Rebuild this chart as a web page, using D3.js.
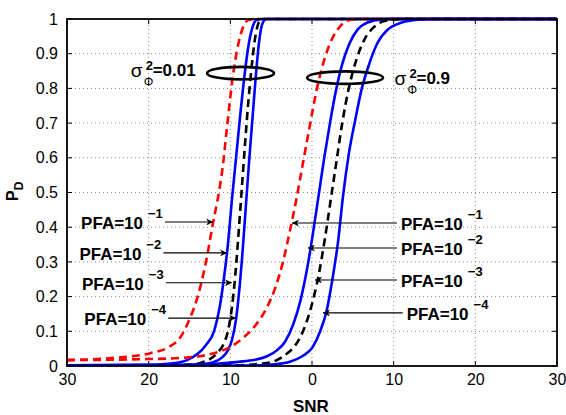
<!DOCTYPE html>
<html>
<head>
<meta charset="utf-8">
<script src="https://cdn.jsdelivr.net/npm/d3@7"></script>
<style>
  body { margin: 0; background: #fff; }
  svg { display: block; font-family: "Liberation Sans", Arial, Helvetica, sans-serif; }
</style>
</head>
<body>
<div id="chart"></div>
<script>
// x ticks (shown without sign, as in the original figure)
const snrTicks = [-30, -20, -10, 0, 10, 20, 30];
const pdTicks = [0, 0.1, 0.2, 0.3, 0.4, 0.5, 0.6, 0.7, 0.8, 0.9, 1];

// sigma^2 = 0.01 group, [SNR, PD]
const lowPfa1 = [[-30, 0.017], [-25, 0.022], [-19.8, 0.037], [-17.5, 0.055], [-16.2, 0.08], [-15.2, 0.124], [-14, 0.2],
  [-12.9, 0.31], [-12.1, 0.415], [-11.4, 0.5], [-10.9, 0.58], [-10.4, 0.69], [-9.6, 0.85], [-8.8, 0.95], [-7.8, 0.997], [-7, 1], [30, 1]];
const lowPfa2 = [[-30, 0.002], [-20, 0.004], [-17, 0.008], [-15.3, 0.017], [-14, 0.035], [-13, 0.06], [-12, 0.1],
  [-11.3, 0.17], [-10.8, 0.25], [-10.3, 0.35], [-9.8, 0.48], [-9.3, 0.6], [-8.8, 0.72], [-8.3, 0.83], [-7.8, 0.92],
  [-7.3, 0.975], [-6.8, 0.997], [-6, 1], [30, 1]];
const lowPfa3 = [[-30, 0], [-20, 0.001], [-15, 0.004], [-13.5, 0.01], [-12.5, 0.02], [-11.5, 0.04], [-10.9, 0.06],
  [-10.3, 0.1], [-9.8, 0.17], [-9.4, 0.26], [-9, 0.38], [-8.6, 0.51], [-8.2, 0.64], [-7.8, 0.76], [-7.4, 0.86],
  [-7, 0.94], [-6.6, 0.985], [-6.2, 0.999], [-5.5, 1], [30, 1]];
const lowPfa4 = [[-30, 0], [-15, 0.002], [-13.5, 0.005], [-12, 0.012], [-11, 0.025], [-10.3, 0.045], [-9.8, 0.075],
  [-9.3, 0.135], [-8.9, 0.22], [-8.5, 0.33], [-8.1, 0.46], [-7.7, 0.59], [-7.3, 0.71], [-6.9, 0.83], [-6.5, 0.93],
  [-6.1, 0.985], [-5.6, 1], [30, 1]];

// sigma^2 = 0.9 group, [SNR, PD]
const highPfa1 = [[-30, 0.017], [-20, 0.02], [-15, 0.025], [-12, 0.037], [-10, 0.055], [-8.5, 0.08], [-7, 0.115],
  [-5.5, 0.17], [-4.5, 0.225], [-3.5, 0.305], [-2.7, 0.39], [-2, 0.47], [-1.3, 0.56], [-0.6, 0.65], [0.1, 0.74],
  [0.8, 0.82], [1.6, 0.89], [2.5, 0.945], [3.5, 0.98], [4.6, 0.997], [6, 1], [30, 1]];
const highPfa2 = [[-30, 0], [-20, 0.002], [-12, 0.006], [-9, 0.012], [-7, 0.018], [-5.5, 0.028], [-4.3, 0.045],
  [-3.3, 0.07], [-2.3, 0.12], [-1.4, 0.19], [-0.6, 0.28], [0.1, 0.38], [0.8, 0.49], [1.5, 0.6], [2.2, 0.7],
  [2.9, 0.79], [3.7, 0.87], [4.6, 0.93], [5.6, 0.97], [6.8, 0.99], [8.5, 0.999], [10, 1], [30, 1]];
const highPfa3 = [[-30, 0], [-10, 0.002], [-6, 0.007], [-4.3, 0.017], [-3.1, 0.035], [-2.1, 0.058], [-1.1, 0.1],
  [-0.1, 0.17], [0.8, 0.26], [1.6, 0.37], [2.3, 0.48], [3, 0.59], [3.7, 0.7], [4.5, 0.8], [5.4, 0.88],
  [6.4, 0.94], [7.5, 0.975], [9, 0.995], [11, 1], [30, 1]];
const highPfa4 = [[-30, 0], [-8, 0.001], [-4.5, 0.005], [-2.7, 0.012], [-1.2, 0.028], [0.1, 0.055], [1, 0.1],
  [1.8, 0.16], [2.5, 0.25], [3.2, 0.36], [3.8, 0.49], [4.5, 0.61], [5.3, 0.71], [6.1, 0.8], [7, 0.87],
  [8, 0.93], [9.3, 0.97], [11, 0.99], [13, 0.998], [15, 1], [30, 1]];

const pfaExponents = ["\u22121", "\u22122", "\u22123", "\u22124"];
// arrow tips for the labels: [SNR, PD]
const lowArrowTips = [[-12.1, 0.415], [-10.4, 0.326], [-9.8, 0.24], [-9.3, 0.138]];
const lowArrowTails = [-18.0, -18.2, -17.9, -17.6];
const highArrowTips = [[-2.45, 0.412], [-0.5, 0.34], [0.37, 0.248], [1.35, 0.153]];
const highArrowTails = [10.4, 10.4, 10.4, 11.1];

const width = 566, height = 415;
const margin = { top: 19, right: 9, bottom: 49, left: 67 };

const svg = d3.select("#chart").append("svg")
  .attr("width", width)
  .attr("height", height);

const x = d3.scaleLinear().domain([-30, 30]).range([margin.left, width - margin.right]);
const y = d3.scaleLinear().domain([0, 1]).range([height - margin.bottom, margin.top]);

const defs = svg.append("defs");
defs.append("clipPath").attr("id", "plotclip")
  .append("rect")
  .attr("x", x(-30)).attr("y", y(1) - 2)
  .attr("width", x(30) - x(-30)).attr("height", y(0) - y(1) + 2);

defs.append("marker")
  .attr("id", "arrowhead")
  .attr("viewBox", "0 0 10 10")
  .attr("refX", 10).attr("refY", 5)
  .attr("markerWidth", 9).attr("markerHeight", 7)
  .attr("markerUnits", "userSpaceOnUse")
  .attr("orient", "auto")
  .append("path")
  .attr("d", "M0,0 L10,5 L0,10 L3,5 Z")
  .attr("fill", "#000");

// grid
const grid = svg.append("g").attr("stroke", "#8a8a8a").attr("stroke-width", 1).attr("stroke-dasharray", "1,3");
grid.selectAll(".gx").data(snrTicks.slice(1, -1)).join("line")
  .attr("x1", d => x(d)).attr("x2", d => x(d))
  .attr("y1", y(0)).attr("y2", y(1));
grid.selectAll(".gy").data(pdTicks.slice(1, -1)).join("line")
  .attr("x1", x(-30)).attr("x2", x(30))
  .attr("y1", d => y(d)).attr("y2", d => y(d));

// axes
const xAxis = d3.axisBottom(x).tickValues(snrTicks).tickSize(0).tickPadding(8)
  .tickFormat(d => String(Math.abs(d)));
const yAxis = d3.axisLeft(y).tickValues(pdTicks).tickSize(0).tickPadding(9)
  .tickFormat(d => d3.format("")(+d.toFixed(1)));

const gx = svg.append("g").attr("transform", `translate(0,${y(0)})`).call(xAxis);
const gy = svg.append("g").attr("transform", `translate(${x(-30)},0)`).call(yAxis);
[gx, gy].forEach(g => {
  g.select(".domain").remove();
  g.selectAll("text").attr("font-size", 16).attr("fill", "#000")
    .attr("font-family", "'Liberation Sans', Arial, sans-serif");
});

// inward tick marks on all four sides
const ticks = svg.append("g").attr("stroke", "#000").attr("stroke-width", 1);
snrTicks.forEach(d => {
  ticks.append("line").attr("x1", x(d)).attr("x2", x(d)).attr("y1", y(0)).attr("y2", y(0) - 5);
  ticks.append("line").attr("x1", x(d)).attr("x2", x(d)).attr("y1", y(1)).attr("y2", y(1) + 5);
});
pdTicks.forEach(d => {
  ticks.append("line").attr("x1", x(-30)).attr("x2", x(-30) + 5).attr("y1", y(d)).attr("y2", y(d));
  ticks.append("line").attr("x1", x(30)).attr("x2", x(30) - 5).attr("y1", y(d)).attr("y2", y(d));
});

// curves
const series = [
  { data: lowPfa1, color: "#ff0000", dash: "8,5" },
  { data: lowPfa2, color: "#0000ff", dash: null },
  { data: lowPfa3, color: "#000000", dash: "8,5" },
  { data: lowPfa4, color: "#0000ff", dash: null },
  { data: highPfa1, color: "#ff0000", dash: "8,5" },
  { data: highPfa2, color: "#0000ff", dash: null },
  { data: highPfa3, color: "#000000", dash: "8,5" },
  { data: highPfa4, color: "#0000ff", dash: null }
];

const line = d3.line()
  .x(d => x(d[0]))
  .y(d => y(d[1]))
  .curve(d3.curveMonotoneX);

svg.append("g").attr("clip-path", "url(#plotclip)")
  .selectAll("path")
  .data(series)
  .join("path")
  .attr("fill", "none")
  .attr("stroke", d => d.color)
  .attr("stroke-width", 2.6)
  .attr("stroke-dasharray", d => d.dash)
  .attr("d", d => line(d.data));

// frame
svg.append("rect")
  .attr("x", x(-30)).attr("y", y(1))
  .attr("width", x(30) - x(-30)).attr("height", y(0) - y(1))
  .attr("fill", "none").attr("stroke", "#000").attr("stroke-width", 1.8);

// ellipses marking the two groups
const ellipses = [
  { cx: -8.75, cy: 0.844, rx: 4.1, ry: 0.018 },
  { cx: 4.05, cy: 0.831, rx: 4.65, ry: 0.018 }
];
svg.append("g").selectAll("ellipse").data(ellipses).join("ellipse")
  .attr("cx", d => x(d.cx)).attr("cy", d => y(d.cy))
  .attr("rx", d => x(d.rx) - x(0)).attr("ry", d => y(0) - y(d.ry))
  .attr("fill", "none").attr("stroke", "#000").attr("stroke-width", 2.6);

// sigma labels
function sigmaLabel(sx, py, value) {
  const px = x(sx), base = y(py);
  const g = svg.append("g").attr("fill", "#000");
  g.append("text").attr("x", px).attr("y", base).attr("font-size", 19).text("\u03c3");
  g.append("text").attr("x", px + 15).attr("y", base - 7).attr("font-size", 13).attr("font-weight", "bold").text("2");
  g.append("text").attr("x", px + 13).attr("y", base + 9).attr("font-size", 12).text("\u03a6");
  g.append("text").attr("x", px + 22).attr("y", base - 1).attr("font-size", 17).attr("font-weight", "bold").text(value);
}
sigmaLabel(-22.2, 0.833, "=0.01");
sigmaLabel(10.1, 0.81, "=0.9");

// PFA labels with arrows
const arrows = svg.append("g");
function pfaLabel(tail, tip, exp, side) {
  const ty = y(tip[1]);
  arrows.append("line")
    .attr("x1", x(tail)).attr("y1", ty)
    .attr("x2", x(tip[0])).attr("y2", ty)
    .attr("stroke", "#000").attr("stroke-width", 1.1)
    .attr("marker-end", "url(#arrowhead)");
  const t = arrows.append("text").attr("font-size", 17).attr("font-weight", "bold").attr("fill", "#000");
  if (side === "left") {
    t.attr("x", x(tail) - 22).attr("y", ty + 7).attr("text-anchor", "end").text("PFA=10");
    arrows.append("text").attr("x", x(tail) - 17).attr("y", ty - 4)
      .attr("font-size", 13).attr("font-weight", "bold").text(exp);
  } else {
    const tx = x(tail) + 4;
    t.attr("x", tx).attr("y", ty + 7).text("PFA=10");
    const w = t.node().getComputedTextLength();
    arrows.append("text").attr("x", tx + w + 5).attr("y", ty - 4)
      .attr("font-size", 13).attr("font-weight", "bold").text(exp);
  }
}
lowArrowTips.forEach((tip, i) => pfaLabel(lowArrowTails[i], tip, pfaExponents[i], "left"));
highArrowTips.forEach((tip, i) => pfaLabel(highArrowTails[i], tip, pfaExponents[i], "right"));

// axis titles
svg.append("text")
  .attr("x", 293).attr("y", 412)
  .attr("font-size", 17).attr("font-weight", "bold").text("SNR");

const yt = svg.append("text")
  .attr("transform", "translate(18,201) rotate(-90)")
  .attr("font-size", 16).attr("font-weight", "bold");
yt.append("tspan").text("P");
yt.append("tspan").attr("font-size", 12).attr("dy", 5).text("D");
</script>
</body>
</html>
